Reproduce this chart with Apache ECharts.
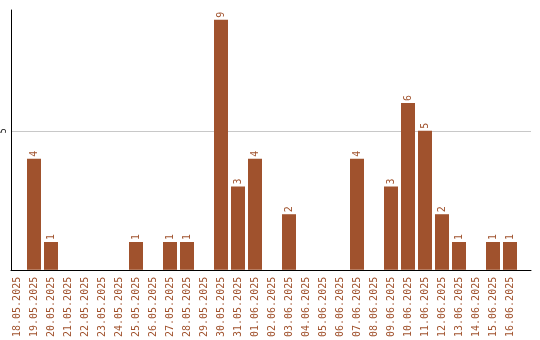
<!DOCTYPE html>
<html><head><meta charset="utf-8">
<script src="https://cdn.jsdelivr.net/npm/echarts@6/dist/echarts.min.js"></script>
<style>html,body{margin:0;padding:0;background:#fff}#c{width:540px;height:340px}</style>
</head><body><div id="c"></div>
<script>
const categories = ["18.05.2025","19.05.2025","20.05.2025","21.05.2025","22.05.2025","23.05.2025","24.05.2025","25.05.2025","26.05.2025","27.05.2025","28.05.2025","29.05.2025","30.05.2025","31.05.2025","01.06.2025","02.06.2025","03.06.2025","04.06.2025","05.06.2025","06.06.2025","07.06.2025","08.06.2025","09.06.2025","10.06.2025","11.06.2025","12.06.2025","13.06.2025","14.06.2025","15.06.2025","16.06.2025"];
const values = [0,4,1,0,0,0,0,1,0,1,1,0,9,3,4,0,2,0,0,0,4,0,3,6,5,2,1,0,1,1];
const yMax = 9.35;
const yTick = 5;

const brown = '#a0522d';
const font = 'DejaVu Sans Mono';
const chart = echarts.init(document.getElementById('c'));
chart.setOption({
  animation: false,
  grid: [
    {left: 11, width: 520, top: 10, height: 260},
    {left: 8.5, width: 510, top: 10, height: 260}
  ],
  xAxis: [
    {gridIndex: 0, type: 'category', data: categories, axisLine: {lineStyle: {color: '#000', width: 1}}, axisTick: {show: false}, axisLabel: {show: false}, splitLine: {show: false}},
    {gridIndex: 1, type: 'category', data: categories, axisLine: {show: false}, axisTick: {show: false},
     axisLabel: {rotate: 90, interval: 0, margin: 7, color: brown, fontFamily: font, fontSize: 10}}
  ],
  yAxis: [
    {gridIndex: 0, type: 'value', min: 0, max: yMax, interval: yTick,
     axisLine: {show: true, lineStyle: {color: '#000', width: 1}}, axisTick: {show: false},
     splitLine: {show: true, showMaxLine: false, showMinLine: false, lineStyle: {color: '#c8c8c8', width: 1}},
     axisLabel: {rotate: 90, margin: 3, color: '#000', fontFamily: font, fontSize: 8, showMaxLabel: false,
       formatter: v => v === 0 ? '' : String(v)}},
    {gridIndex: 1, type: 'value', min: 0, max: yMax, interval: yTick, show: false}
  ],
  series: [{
    type: 'bar', xAxisIndex: 1, yAxisIndex: 1, data: values.map(v => v === 0 ? null : v),
    barWidth: 14,
    itemStyle: {color: brown},
    label: {show: true, position: 'top', rotate: 90, align: 'left', verticalAlign: 'middle', distance: 2,
      color: brown, fontFamily: font, fontSize: 10}
  }]
});
</script></body></html>
